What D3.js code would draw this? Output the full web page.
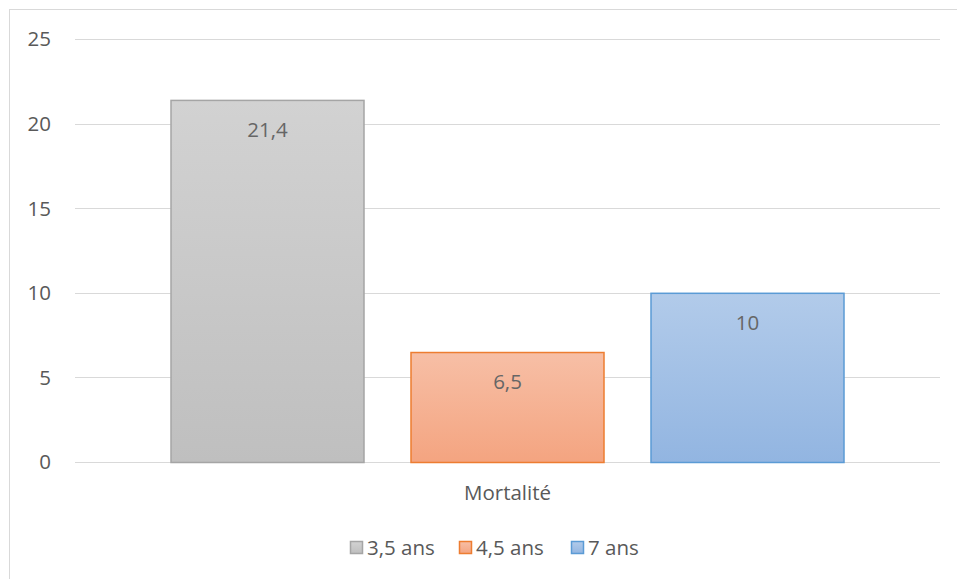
<!DOCTYPE html>
<html>
<head>
<meta charset="utf-8">
<script src="https://cdn.jsdelivr.net/npm/d3@7"></script>
<style>
  body { margin: 0; background: #fff; }
  text { font-family: "Open Sans", "Liberation Sans", Arial, sans-serif; fill: #595959; }
</style>
</head>
<body>
<div id="chart"></div>
<script>
const width = 957, height = 579;
const category = "Mortalité";
const series = ["3,5 ans", "4,5 ans", "7 ans"];
const values = [21.4, 6.5, 10];
const labels = ["21,4", "6,5", "10"];
const yTicks = [0, 5, 10, 15, 20, 25];

const fills = [["#d2d2d2", "#bfbfbf"], ["#f7bfa6", "#f4a480"], ["#b2cbea", "#92b5e1"]];
const strokes = ["#a5a5a5", "#ed7d31", "#5b9bd5"];

const plot = {left: 75, right: 940, top: 39, bottom: 462};
const fontSize = "20.5px";

const svg = d3.select("#chart").append("svg")
    .attr("width", width)
    .attr("height", height);

// outer chart border (only top and left show in the frame)
svg.append("rect")
    .attr("x", 9.5).attr("y", 9.5)
    .attr("width", 1000).attr("height", 1000)
    .attr("fill", "none").attr("stroke", "#d9d9d9");

const defs = svg.append("defs");
fills.forEach(function(f, i) {
    const g = defs.append("linearGradient")
        .attr("id", "grad" + i)
        .attr("x1", 0).attr("y1", 0).attr("x2", 0).attr("y2", 1);
    g.append("stop").attr("offset", "0%").attr("stop-color", f[0]);
    g.append("stop").attr("offset", "100%").attr("stop-color", f[1]);
});

const y = d3.scaleLinear().domain([0, 25]).range([plot.bottom, plot.top]);
const x0 = d3.scaleBand().domain([category]).range([plot.left, plot.right]).paddingInner(0).paddingOuter(0);
const x1 = d3.scaleBand().domain(series).range([95.5, 865 - 95.5]).paddingInner(46 / 240).paddingOuter(0);

// grid
svg.append("g").selectAll("line")
    .data(yTicks)
    .enter().append("line")
    .attr("x1", plot.left).attr("x2", plot.right)
    .attr("y1", function(d) { return Math.round(y(d)) + 0.5; })
    .attr("y2", function(d) { return Math.round(y(d)) + 0.5; })
    .attr("stroke", "#d9d9d9")
    .attr("stroke-width", 1);

svg.append("g").selectAll("text")
    .data(yTicks)
    .enter().append("text")
    .attr("x", 51)
    .attr("y", function(d) { return y(d); })
    .attr("dy", "0.36em")
    .attr("text-anchor", "end")
    .style("font-size", fontSize)
    .text(function(d) { return d; });

// bars
const bars = svg.append("g").selectAll("g")
    .data(values)
    .enter().append("g");

bars.append("rect")
    .attr("x", function(d, i) { return x0(category) + x1(series[i]) + 0.5; })
    .attr("y", function(d) { return y(d) + 0.5; })
    .attr("width", x1.bandwidth() - 1)
    .attr("height", function(d) { return y(0) - y(d); })
    .attr("fill", function(d, i) { return "url(#grad" + i + ")"; })
    .attr("stroke", function(d, i) { return strokes[i]; })
    .attr("stroke-width", 1.5);

bars.append("text")
    .attr("x", function(d, i) { return x0(category) + x1(series[i]) + x1.bandwidth() / 2; })
    .attr("y", function(d) { return y(d) + 37; })
    .attr("text-anchor", "middle")
    .style("font-size", fontSize)
    .style("fill", "#666")
    .text(function(d, i) { return labels[i]; });

// category label
svg.append("text")
    .attr("x", x0(category) + x0.bandwidth() / 2)
    .attr("y", 500)
    .attr("text-anchor", "middle")
    .style("font-size", fontSize)
    .text(category);

// legend
const legendX = [350, 459, 571];
const leg = svg.append("g").selectAll("g")
    .data(series)
    .enter().append("g")
    .attr("transform", function(d, i) { return "translate(" + legendX[i] + ",541)"; });

leg.append("rect")
    .attr("x", 0.5).attr("y", 0.5)
    .attr("width", 12).attr("height", 12)
    .attr("fill", function(d, i) { return "url(#grad" + i + ")"; })
    .attr("stroke", function(d, i) { return strokes[i]; })
    .attr("stroke-width", 1.5);

leg.append("text")
    .attr("x", 17)
    .attr("y", 14)
    .style("font-size", fontSize)
    .text(function(d) { return d; });
</script>
</body>
</html>
